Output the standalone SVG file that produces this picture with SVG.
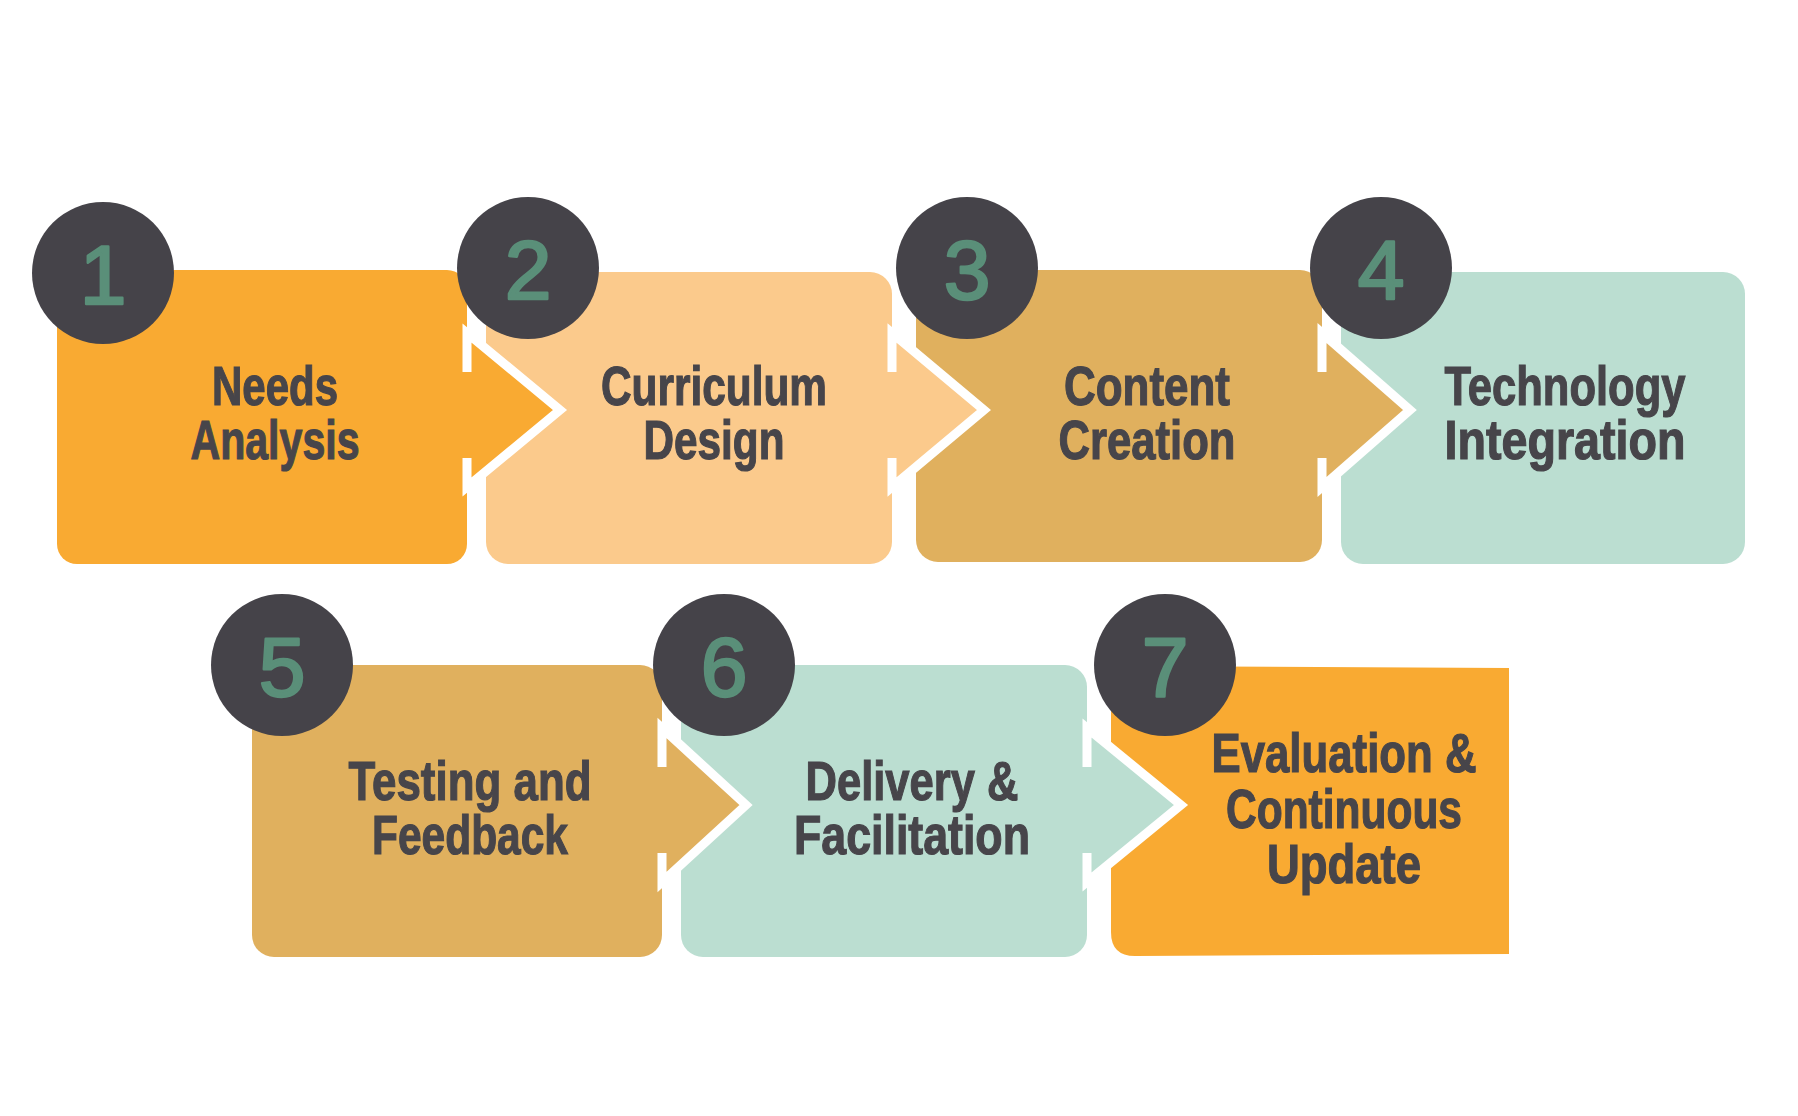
<svg xmlns="http://www.w3.org/2000/svg" width="1798" height="1116" viewBox="0 0 1798 1116">
<style>
.lbl{font-family:"Liberation Sans","Arial",sans-serif;font-weight:bold;font-size:56px;fill:#47454a;stroke:#47454a;stroke-width:1.2;text-anchor:middle}
.num{font-family:"Liberation Sans","Arial",sans-serif;font-weight:normal;font-size:84px;fill:#5a8f79;stroke:#5a8f79;stroke-width:2.5;stroke-linejoin:round;text-anchor:middle}
.dot{fill:#454349}
.c1{fill:#f9aa32}.c2{fill:#fbca8c}.c3{fill:#e0b05e}.c4{fill:#bbded1}
.edge{fill:none;stroke:#ffffff;stroke-width:9;stroke-linejoin:miter}
</style>
<rect width="1798" height="1116" fill="#ffffff"/>
<g id="node1">
<rect class="c1" x="57" y="270" width="410" height="294" rx="20"/>
<text class="lbl" x="275" y="405" textLength="126" lengthAdjust="spacingAndGlyphs">Needs</text>
<text class="lbl" x="275" y="459" textLength="169" lengthAdjust="spacingAndGlyphs">Analysis</text>
</g>
<g id="node2">
<rect class="c2" x="486" y="272" width="406" height="292" rx="22"/>
<text class="lbl" x="714" y="405" textLength="226" lengthAdjust="spacingAndGlyphs">Curriculum</text>
<text class="lbl" x="714" y="459" textLength="141" lengthAdjust="spacingAndGlyphs">Design</text>
</g>
<g id="node3">
<rect class="c3" x="916" y="270" width="406" height="292" rx="22"/>
<text class="lbl" x="1147" y="405" textLength="166" lengthAdjust="spacingAndGlyphs">Content</text>
<text class="lbl" x="1147" y="459" textLength="177" lengthAdjust="spacingAndGlyphs">Creation</text>
</g>
<g id="node4">
<rect class="c4" x="1341" y="272" width="404" height="292" rx="22"/>
<text class="lbl" x="1565" y="405" textLength="241" lengthAdjust="spacingAndGlyphs">Technology</text>
<text class="lbl" x="1565" y="459" textLength="241" lengthAdjust="spacingAndGlyphs">Integration</text>
</g>
<g id="node5">
<rect class="c3" x="252" y="665" width="410" height="292" rx="22"/>
<text class="lbl" x="470" y="800" textLength="243" lengthAdjust="spacingAndGlyphs">Testing and</text>
<text class="lbl" x="470" y="854" textLength="196" lengthAdjust="spacingAndGlyphs">Feedback</text>
</g>
<g id="node6">
<rect class="c4" x="681" y="665" width="406" height="292" rx="22"/>
<text class="lbl" x="912" y="800" textLength="213" lengthAdjust="spacingAndGlyphs">Delivery &amp;</text>
<text class="lbl" x="912" y="854" textLength="236" lengthAdjust="spacingAndGlyphs">Facilitation</text>
</g>
<g id="node7">
<path class="c1" d="M1111 666 L1509 668 L1509 954 L1135 956 Q1111 956 1111 932 Z"/>
<text class="lbl" x="1344" y="772" textLength="265" lengthAdjust="spacingAndGlyphs">Evaluation &amp;</text>
<text class="lbl" x="1344" y="828" textLength="236" lengthAdjust="spacingAndGlyphs">Continuous</text>
<text class="lbl" x="1344" y="883" textLength="154" lengthAdjust="spacingAndGlyphs">Update</text>
</g>
<g id="connectors">
<polygon class="c1" points="467,333 560,410 467,487"/>
<polyline class="edge" points="467,372 467,333 560,410 467,487 467,458"/>
<polygon class="c2" points="892,333 984,410 892,487"/>
<polyline class="edge" points="892,372 892,333 984,410 892,487 892,458"/>
<polygon class="c3" points="1322,333 1410,410 1322,487"/>
<polyline class="edge" points="1322,372 1322,333 1410,410 1322,487 1322,458"/>
<polygon class="c3" points="662,728 746,805 662,882"/>
<polyline class="edge" points="662,767 662,728 746,805 662,882 662,853"/>
<polygon class="c4" points="1087,728 1181,805 1087,882"/>
<polyline class="edge" points="1087,767 1087,728 1181,805 1087,882 1087,853"/>
</g>
<g id="badges">
<g id="badge1"><circle class="dot" cx="103" cy="273" r="71"/><text class="num" x="103" y="304">1</text></g>
<g id="badge2"><circle class="dot" cx="528" cy="268" r="71"/><text class="num" x="528" y="299">2</text></g>
<g id="badge3"><circle class="dot" cx="967" cy="268" r="71"/><text class="num" x="967" y="299">3</text></g>
<g id="badge4"><circle class="dot" cx="1381" cy="268" r="71"/><text class="num" x="1381" y="299">4</text></g>
<g id="badge5"><circle class="dot" cx="282" cy="665" r="71"/><text class="num" x="282" y="696">5</text></g>
<g id="badge6"><circle class="dot" cx="724" cy="665" r="71"/><text class="num" x="724" y="696">6</text></g>
<g id="badge7"><circle class="dot" cx="1165" cy="665" r="71"/><text class="num" x="1165" y="696">7</text></g>
</g>
</svg>
